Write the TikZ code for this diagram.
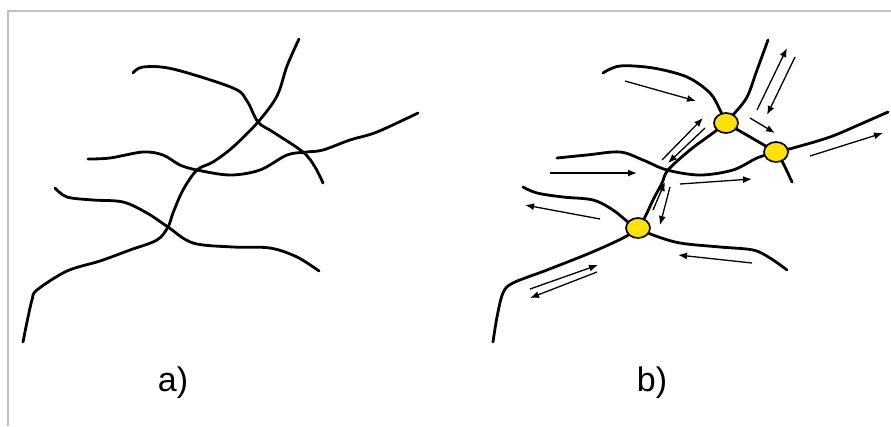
\documentclass[tikz,border=0pt]{standalone}
\usepackage{fontspec}
\setmainfont{Liberation Sans}
\usetikzlibrary{arrows.meta,shapes.geometric}
\begin{document}
\begin{tikzpicture}[x=1pt,y=-1pt,
  curve/.style={line width=2.8pt,line cap=round,line join=round},
  flow/.style={line width=1.3pt,-{Latex[length=9pt,width=7pt]}},
  junction/.style={ellipse,draw=black,line width=1.7pt,fill=yellow!85!orange,minimum width=24pt,minimum height=20pt,inner sep=0pt},
  frame/.style={black!25,line width=2pt},
  lbl/.style={font=\fontsize{34}{40}\selectfont}]
\useasboundingbox (0,0) rectangle (891,426);
\draw[frame] (7.5,426) -- (7.5,11) -- (891,11);

% ---------- panel a ----------
\draw[curve] plot[smooth,tension=0.55] coordinates {(133,73) (143,67) (173,69) (233,88) (247,101) (258,122) (273,132) (303,152) (315,167) (323,183)};
\draw[curve] plot[smooth,tension=0.55] coordinates {(299,39) (287,66) (277,96) (258,122) (233,147) (213,162) (197,170) (183,190) (173,213) (168,227) (157,240) (130,250) (100,261) (67,271) (37,290) (32,300) (27,322) (23,342)};
\draw[curve] plot[smooth,tension=0.55] coordinates {(88,159) (110,158) (143,152) (163,155) (180,165) (197,170) (230,175) (260,170) (287,155) (307,152) (323,150) (350,140) (377,132) (418,113)};
\draw[curve] plot[smooth,tension=0.55] coordinates {(55,188) (67,197) (93,200) (123,202) (147,213) (168,227) (193,243) (233,247) (270,248) (297,257) (319,271)};
\node[lbl] (la) at (173,383) {a)};

% ---------- panel b ----------
\coordinate (c1) at (726,123);
\coordinate (c2) at (776,152);
\coordinate (c3) at (638,228);
\draw[curve] plot[smooth,tension=0.55] coordinates {(603,73) (620,66) (653,68) (687,77) (710,93) (720,110) (c1)};
\draw[curve] plot[smooth,tension=0.55] coordinates {(768,40) (757,70) (747,97) (733,115) (c1) (713,133) (690,150) (668,170) (662,183) (653,200) (645,217) (c3) (623,238) (590,253) (547,270) (513,283) (503,293) (497,317) (493,342)};
\draw[curve] plot[smooth,tension=0.55] coordinates {(557,158) (587,155) (620,152) (643,160) (667,170) (700,175) (733,170) (757,158) (c2) (793,148) (830,137) (863,123) (888,112)};
\draw[curve] (c1) -- (c2);
\draw[curve] plot[smooth,tension=0.55] coordinates {(c2) (783,163) (792,182)};
\draw[curve] plot[smooth,tension=0.55] coordinates {(523,187) (537,193) (563,197) (593,200) (613,210) (628,222) (c3) (653,235) (680,243) (720,247) (753,250) (770,258) (787,270)};

\node[junction] (n1) at (c1) {};
\node[junction] (n2) at (c2) {};
\node[junction] (n3) at (c3) {};

% flow arrows
\coordinate (a1s) at (625,81);  \coordinate (a1e) at (696,101);
\coordinate (a2s) at (757,110); \coordinate (a2e) at (787,48);
\coordinate (a3s) at (795,57);  \coordinate (a3e) at (767,115);
\coordinate (a4s) at (750,118); \coordinate (a4e) at (775,133);
\coordinate (a5s) at (810,156); \coordinate (a5e) at (883,133);
\coordinate (a6s) at (662,160); \coordinate (a6e) at (703,118);
\coordinate (a7s) at (705,128); \coordinate (a7e) at (668,163);
\coordinate (a8s) at (550,173); \coordinate (a8e) at (637,173);
\coordinate (a9s) at (680,184); \coordinate (a9e) at (752,179);
\coordinate (a10s) at (653,210); \coordinate (a10e) at (665,182);
\coordinate (a11s) at (670,187); \coordinate (a11e) at (660,225);
\coordinate (a12s) at (600,219); \coordinate (a12e) at (525,205);
\coordinate (a13s) at (752,263); \coordinate (a13e) at (678,255);
\coordinate (a14s) at (530,289); \coordinate (a14e) at (598,265);
\coordinate (a15s) at (597,272); \coordinate (a15e) at (530,298);
\foreach \i in {1,...,15} {\draw[flow] (a\i s) -- (a\i e);}

\node[lbl] (lb) at (652,383) {b)};
\end{tikzpicture}
\end{document}
